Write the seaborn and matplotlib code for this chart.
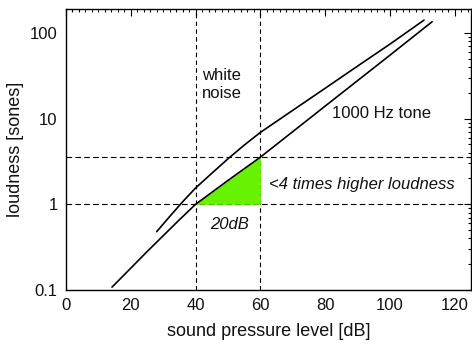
import numpy as np
import pandas as pd
import matplotlib
matplotlib.use("Agg")
import matplotlib.pyplot as plt
import seaborn as sns
from matplotlib.ticker import MultipleLocator, LogLocator, NullFormatter, FixedLocator, FixedFormatter

###-------DATA------###

# 1000 Hz tone loudness curve
tone_db = [14.2, 20, 25, 30, 35, 40, 50, 60, 80, 100, 113]
tone_sones = [0.108, 0.18, 0.28, 0.43, 0.66, 1.0, 1.9, 3.55, 14, 55, 135]

# white noise loudness curve
noise_db = [28, 32, 36, 40, 45, 50, 55, 60, 70, 80, 90, 100, 110.5]
noise_sones = [0.48, 0.72, 1.07, 1.55, 2.3, 3.4, 4.9, 6.9, 12.5, 22.6, 41, 74, 141]

# reference levels (dashed guides)
guide_db = [40, 60]
guide_sones = [1.0, 3.55]

x_ticks = [0, 20, 40, 60, 80, 100, 120]
y_ticks = [0.1, 1, 10, 100]
y_ticklabels = ["0.1", "1", "10", "100"]

###-------PLOT------###
sns.set_style("white")
plt.rcParams["font.family"] = ["Liberation Sans", "DejaVu Sans"]
plt.rcParams["text.color"] = "#111111"
plt.rcParams["axes.labelcolor"] = "#111111"
plt.rcParams["xtick.color"] = "#111111"
plt.rcParams["ytick.color"] = "#111111"

fig, ax = plt.subplots(figsize=(4.72, 3.46), dpi=100)
fig.subplots_adjust(left=66 / 472, right=471 / 472, top=1 - 9 / 346, bottom=1 - 290 / 346)

curves = pd.concat([
    pd.DataFrame({"level": tone_db, "loudness": tone_sones, "sound": "tone"}),
    pd.DataFrame({"level": noise_db, "loudness": noise_sones, "sound": "noise"}),
])
sns.lineplot(data=curves, x="level", y="loudness", units="sound", estimator=None,
             color="black", lw=1.2, sort=False, ax=ax)

# green triangle between the tone curve and 1 sone, 40..60 dB
tone_log = np.log10(tone_sones)
fill_x = np.linspace(guide_db[0], guide_db[1], 30)
fill_y = 10 ** np.interp(fill_x, tone_db, tone_log)
ax.fill_between(fill_x, guide_sones[0], fill_y, color="#66f200", lw=0, zorder=1)

for xv in guide_db:
    ax.axvline(xv, color="black", lw=0.8, ls=(0, (4, 3)), zorder=0)
for yv in guide_sones:
    ax.axhline(yv, color="black", lw=0.8, ls=(0, (5, 3)), zorder=0)

ax.set_yscale("log")
ax.set_xlim(0, 125)
ax.set_ylim(0.1, 190)

ax.text(42, 25, "white\nnoise", fontsize=12, va="center", ha="left", linespacing=1.25)
ax.text(82.2, 11.6, "1000 Hz tone", fontsize=12, va="center", ha="left")
ax.text(62.7, 1.71, "<4 times higher loudness", fontsize=12, style="italic", va="center", ha="left")
ax.text(50.6, 0.58, "20dB", fontsize=12, style="italic", va="center", ha="center")

ax.xaxis.set_major_locator(FixedLocator(x_ticks))
ax.xaxis.set_minor_locator(MultipleLocator(2))
ax.yaxis.set_major_locator(FixedLocator(y_ticks))
ax.yaxis.set_major_formatter(FixedFormatter(y_ticklabels))
ax.yaxis.set_minor_locator(LogLocator(base=10, subs=np.arange(2, 10)))
ax.yaxis.set_minor_formatter(NullFormatter())

ax.tick_params(which="both", direction="in", top=True, right=True, color="black", width=0.8)
ax.tick_params(which="major", length=5, labelsize=12, pad=6)
ax.tick_params(which="minor", length=2.5)

for sp in ax.spines.values():
    sp.set_color("black")
    sp.set_linewidth(1.0)

ax.set_xlabel("sound pressure level [dB]", fontsize=13, labelpad=7)
ax.set_ylabel("loudness [sones]", fontsize=13, labelpad=4)
ax.get_legend() and ax.get_legend().remove()

fig.savefig("out.png", dpi=100)
